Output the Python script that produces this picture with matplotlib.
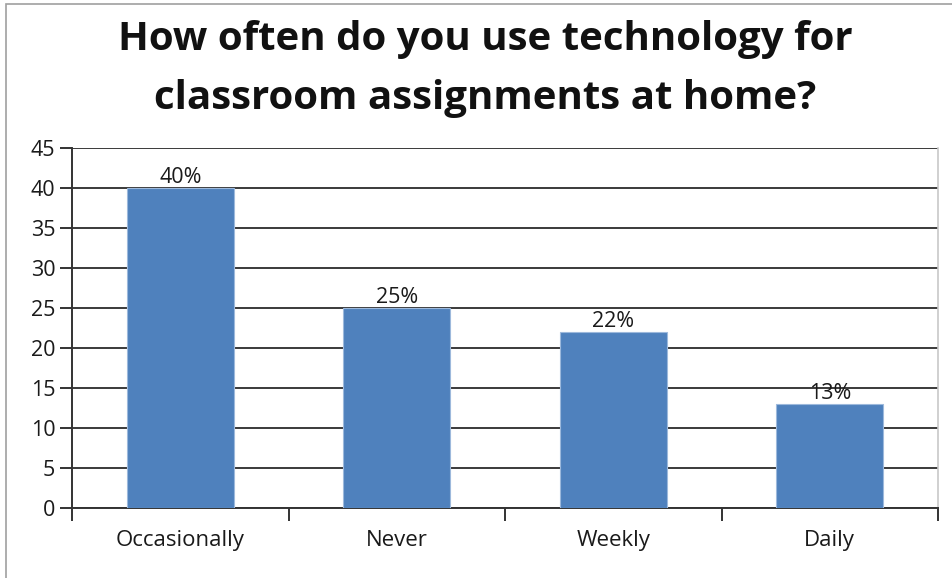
import matplotlib
matplotlib.use("Agg")
import matplotlib.pyplot as plt
from matplotlib.patches import Rectangle

categories = ["Occasionally", "Never", "Weekly", "Daily"]
values = [40, 25, 22, 13]
value_labels = ["40%", "25%", "22%", "13%"]
y_ticks = [0, 5, 10, 15, 20, 25, 30, 35, 40, 45]

plt.rcParams["font.family"] = ["Open Sans", "DejaVu Sans"]

fig = plt.figure(figsize=(9.52, 5.78), dpi=100)
fig.patch.set_facecolor("white")

# thin grey frame around the chart area (runs off right/bottom edges)
fig.add_artist(Rectangle((6 / 952, -0.05), 1.2, 1 - 4 / 578 + 0.05,
                         transform=fig.transFigure, fill=False,
                         edgecolor="#a0a0a0", linewidth=1.2))

ax = fig.add_axes([72 / 952, 1 - 508 / 578, (938 - 72) / 952, (508 - 148) / 578])

x = list(range(len(categories)))
ax.bar(x, values, width=0.495, color="#4F81BD", edgecolor="#9DB9DC",
       linewidth=0.8, zorder=3)

for xi, v, lab in zip(x, values, value_labels):
    ax.annotate(lab, (xi, v), xytext=(0, 0), textcoords="offset points",
                ha="center", va="bottom", fontsize=15.5, color="#1a1a1a", zorder=4)

ax.set_xlim(-0.5, len(categories) - 0.5)
ax.set_ylim(0, 45)
ax.set_yticks(y_ticks)
ax.set_yticklabels([str(t) for t in y_ticks], fontsize=15.5, color="#1a1a1a")
ax.yaxis.grid(True, color="#3a3a3a", linewidth=1.4, zorder=1)
ax.set_axisbelow(True)

ax.set_xticks([i - 0.5 for i in range(len(categories) + 1)])
ax.set_xticklabels([])
ax.set_xticks(x, minor=True)
ax.set_xticklabels(categories, minor=True, fontsize=16, color="#1a1a1a")
ax.tick_params(axis="x", which="minor", length=0, pad=16)
ax.tick_params(axis="x", which="major", length=9, width=1.4, color="#333333")
ax.tick_params(axis="y", length=9, width=1.4, color="#333333", pad=3)

for s in ("left", "bottom"):
    ax.spines[s].set_color("#333333")
    ax.spines[s].set_linewidth(1.4)
ax.spines["top"].set_visible(False)
ax.spines["right"].set_color("#c8c8c8")
ax.spines["right"].set_linewidth(1.2)

fig.text(0.5 + 9 / 952, 1 - 69 / 578,
         "How often do you use technology for\nclassroom assignments at home?",
         ha="center", va="center", fontsize=29, fontweight="bold",
         color="#111111", linespacing=1.68)

fig.savefig("out.png", dpi=100, facecolor="white")
